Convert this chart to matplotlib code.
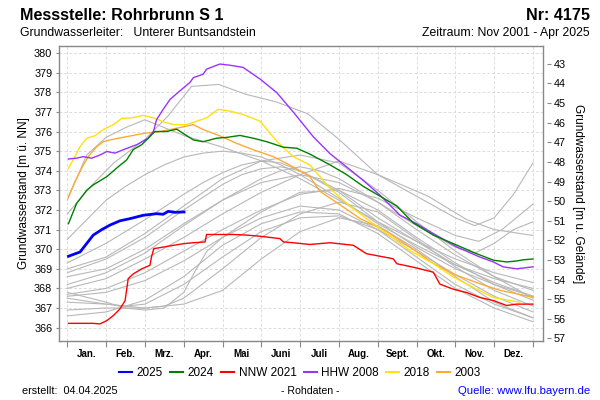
import matplotlib
matplotlib.use("Agg")
import matplotlib.pyplot as plt

plt.rcParams['font.family'] = ['Liberation Sans', 'DejaVu Sans']

# x values are in months from 1 Jan (0) to 31 Dec (12)
months = ["Jan.", "Feb.", "Mrz.", "Apr.", "Mai", "Juni", "Juli", "Aug.", "Sept.", "Okt.", "Nov.", "Dez."]
ground_level = 422.45

x_2025 = [0.03, 0.33, 0.67, 0.89, 1.10, 1.36, 1.62, 1.96, 2.30, 2.47, 2.60, 2.78, 3.01]
y_2025 = [369.64, 369.86, 370.72, 371.0, 371.23, 371.45, 371.56, 371.73, 371.81, 371.78, 371.93, 371.88, 371.9]

x_2024 = [0.03, 0.24, 0.5, 0.67, 1.02, 1.31, 1.53, 1.70, 1.92, 2.13, 2.26, 2.56, 2.82, 2.99, 3.25, 3.50,
          3.85, 4.11, 4.45, 4.79, 5.14, 5.57, 5.91, 6.25, 6.77, 7.2, 7.63, 8.06, 8.49, 8.91, 9.43, 9.95,
          10.55, 10.98, 11.32, 11.58, 11.75, 12.0]
y_2024 = [371.3, 372.33, 373.0, 373.28, 373.7, 374.2, 374.55, 375.08, 375.33, 375.75, 376.0, 376.0, 376.12,
          375.9, 375.57, 375.48, 375.66, 375.7, 375.8, 375.66, 375.48, 375.2, 375.15, 374.85, 374.3, 373.8,
          373.2, 372.7, 372.2, 371.35, 370.72, 370.28, 369.77, 369.44, 369.35, 369.4, 369.46, 369.5]

x_nnw = [0.03, 0.33, 0.67, 0.84, 1.02, 1.19, 1.36, 1.49, 1.57, 1.70, 1.92, 2.13, 2.17, 2.23, 2.39, 2.65,
         2.99, 3.25, 3.55, 3.59, 3.93, 4.28, 4.62, 4.97, 5.48, 5.57, 5.82, 6.25, 6.77, 7.37, 7.71, 8.06,
         8.40, 8.49, 8.92, 9.43, 9.60, 9.95, 10.29, 10.63, 10.98, 11.32, 11.58, 12.0]
y_nnw = [366.22, 366.22, 366.22, 366.19, 366.36, 366.62, 366.96, 367.38, 368.5, 368.74, 369.0, 369.18,
         369.6, 370.03, 370.08, 370.17, 370.28, 370.33, 370.37, 370.75, 370.75, 370.75, 370.72, 370.66,
         370.54, 370.37, 370.33, 370.24, 370.33, 370.2, 369.77, 369.64, 369.51, 369.26, 369.08, 368.83,
         368.22, 367.96, 367.79, 367.54, 367.38, 367.13, 367.2, 367.2]

x_hhw = [0.03, 0.24, 0.41, 0.63, 0.84, 1.02, 1.23, 1.44, 1.79, 2.09, 2.22, 2.30, 2.47, 2.65, 2.90, 3.16,
         3.25, 3.5, 3.59, 3.93, 4.19, 4.53, 4.97, 5.40, 5.82, 6.34, 6.77, 7.20, 7.63, 8.06, 8.57, 9.0,
         9.43, 10.03, 10.63, 10.98, 11.23, 11.58, 12.0]
y_hhw = [374.6, 374.64, 374.72, 374.64, 374.8, 374.98, 374.9, 375.07, 375.33, 375.66, 376.0, 376.6,
         377.13, 377.64, 378.07, 378.5, 378.75, 378.92, 379.18, 379.44, 379.38, 379.27, 378.67, 377.98,
         377.0, 375.73, 374.87, 374.19, 373.5, 372.75, 371.74, 371.3, 370.8, 370.12, 369.6, 369.35,
         369.1, 369.0, 369.1]

x_2018 = [0.03, 0.15, 0.33, 0.5, 0.71, 0.93, 1.19, 1.40, 1.66, 1.96, 2.22, 2.47, 2.73, 3.08, 3.33, 3.59,
          3.89, 4.19, 4.53, 4.97, 5.40, 5.82, 6.25, 6.77, 7.28, 7.71, 8.23, 8.83, 9.43, 9.95, 10.46,
          10.98, 11.41, 11.66]
y_2018 = [374.13, 374.55, 375.23, 375.66, 375.78, 376.1, 376.35, 376.67, 376.7, 376.82, 376.7, 376.5,
          376.35, 376.35, 376.52, 376.7, 377.13, 377.04, 376.87, 376.52, 375.5, 374.72, 374.3, 373.1,
          372.2, 371.56, 370.8, 369.93, 369.27, 368.58, 368.05, 367.54, 367.38, 367.3]

x_2003 = [0.03, 0.2, 0.37, 0.54, 0.76, 0.93, 1.10, 1.53, 1.96, 2.39, 2.82, 3.25, 3.50, 3.93, 4.36, 4.79,
          5.31, 5.82, 6.25, 6.51, 7.03, 7.54, 8.23, 8.83, 9.43, 10.03, 10.63, 11.15, 11.58, 12.0]
y_2003 = [372.68, 373.45, 374.13, 374.72, 375.23, 375.48, 375.57, 375.74, 375.9, 376.0, 376.17, 376.35,
          376.1, 375.78, 375.4, 375.07, 374.72, 374.2, 373.7, 372.95, 372.26, 371.57, 370.9, 370.12,
          369.27, 368.67, 368.24, 367.9, 367.73, 367.54]

# other years (grey)
grey_years = [
    ([0, 0.6, 1.2, 2, 2.6, 3.2, 3.9, 4.6, 5.4, 6.2, 7, 8, 9.3, 10.3, 11, 12],
     [371.8, 373.2, 374.4, 375.6, 376.8, 378.3, 378.4, 377.9, 377.5, 376.9, 375.6, 373.8, 372.7, 371.5, 371.0, 370.7]),
    ([0, 0.5, 1, 1.5, 2, 2.5, 3, 3.5, 4, 5, 6, 7, 8, 9, 10, 11, 12],
     [372.5, 374.8, 375.7, 376.2, 376.6, 376.2, 375.8, 375.5, 375.2, 374.5, 373.6, 372.5, 371.4, 370.4, 369.5, 368.8, 368.3]),
    ([0, 0.5, 1, 1.5, 2, 2.5, 3, 3.5, 4, 4.5, 5, 5.5, 6, 7, 8, 9, 10, 11, 12],
     [370.5, 371.5, 372.5, 373.2, 373.8, 374.3, 374.7, 374.9, 375.0, 374.9, 374.7, 374.3, 373.8, 372.6, 371.3, 370.2, 369.2, 368.5, 368.0]),
    ([0, 1, 2, 3, 3.5, 4, 4.5, 5, 5.5, 6, 7, 8, 9, 10, 11, 12],
     [369.3, 370.3, 371.5, 372.8, 373.4, 373.9, 374.3, 374.5, 374.4, 374.0, 372.9, 371.4, 370.1, 369.0, 368.2, 367.6]),
    ([0, 1, 2, 3, 4, 4.5, 5, 5.5, 6, 7, 8, 9, 10, 11, 12],
     [368.8, 369.5, 370.6, 372.0, 373.3, 373.8, 374.1, 374.2, 374.0, 373.0, 371.6, 370.4, 369.2, 368.3, 367.6]),
    ([0, 1, 2, 3, 4, 5, 5.5, 6, 6.5, 7, 8, 9, 10, 11, 12],
     [368.2, 368.8, 369.8, 371.2, 372.5, 373.6, 374.0, 374.2, 374.0, 373.6, 372.4, 371.0, 369.7, 368.6, 367.9]),
    ([0, 1, 2, 3, 4, 5, 6, 7, 8, 9, 10, 10.5, 11, 11.5, 12],
     [368.0, 368.5, 369.5, 370.6, 371.8, 372.9, 373.8, 374.5, 373.8, 372.7, 371.6, 371.2, 371.6, 372.8, 374.4]),
    ([0, 1, 2, 3, 4, 5, 6, 7, 8, 9, 10, 10.6, 11.2, 12],
     [367.7, 368.0, 368.8, 369.9, 371.0, 372.0, 372.8, 373.1, 372.6, 371.6, 370.7, 370.4, 371.0, 372.3]),
    ([0, 1, 2, 3, 4, 5, 6, 7, 8, 9, 10, 11, 12],
     [367.6, 367.8, 368.4, 369.4, 370.6, 371.9, 372.9, 373.0, 372.0, 370.6, 369.3, 368.2, 367.4]),
    ([0, 1, 1.5, 2, 3, 4, 5, 6, 7, 8, 9, 10, 11, 12],
     [367.3, 367.2, 367.1, 367.2, 368.2, 369.6, 370.9, 371.6, 371.7, 371.0, 369.9, 368.7, 367.6, 366.8]),
    ([0, 1, 2, 2.5, 3, 4, 5, 6, 7, 8, 9, 10, 11, 12],
     [366.9, 367.0, 367.0, 367.1, 367.5, 369.0, 370.6, 371.8, 372.4, 371.9, 370.5, 369.1, 367.9, 367.1]),
    ([0, 1, 2, 3, 4, 5, 6, 7, 8, 9, 10, 11, 12],
     [367.5, 367.2, 367.0, 367.2, 367.9, 369.5, 370.9, 371.6, 371.2, 370.0, 368.6, 367.3, 366.5]),
    ([0, 1, 2, 3, 4, 5, 6, 7, 8, 9, 10, 11, 12],
     [369.0, 369.6, 370.8, 372.2, 373.6, 374.5, 374.8, 374.4, 373.0, 371.4, 369.9, 368.6, 367.5]),
    ([0, 1, 2, 3, 4, 5, 6, 7, 8, 9, 10, 10.5, 11, 11.5, 12],
     [368.6, 369.0, 370.0, 371.3, 372.5, 373.4, 373.8, 373.4, 372.4, 371.2, 370.1, 369.8, 370.3, 371.0, 371.4]),
    ([0, 1, 2, 3, 4, 5, 6, 7, 8, 9, 10, 11, 12],
     [366.6, 366.8, 367.4, 368.6, 370.2, 371.3, 371.9, 371.8, 370.8, 369.4, 368.0, 367.0, 366.3]),
    ([0, 1, 1.5, 2, 2.5, 3, 3.3, 3.6, 4, 5, 6, 7, 8, 9, 10, 11, 12],
     [367.8, 367.3, 367.0, 366.9, 367.0, 367.8, 368.9, 369.9, 370.6, 371.6, 372.2, 372.0, 371.0, 369.6, 368.2, 367.2, 366.5]),
]

fig = plt.figure(figsize=(6, 4), dpi=100)
ax = fig.add_axes([0.0988, 0.148, 0.8057, 0.737])

for gx, gy in grey_years:
    ax.plot(gx, gy, color='#b8b8b8', linewidth=0.8, zorder=2)

ax.plot(x_2003, y_2003, color='#ffaa33', linewidth=1.0, zorder=3, label='2003')
ax.plot(x_2018, y_2018, color='#ffe010', linewidth=1.0, zorder=3, label='2018')
ax.plot(x_hhw, y_hhw, color='#9933ff', linewidth=1.0, zorder=4, label='HHW 2008')
ax.plot(x_nnw, y_nnw, color='#ff0000', linewidth=1.0, zorder=4, label='NNW 2021')
ax.plot(x_2024, y_2024, color='#008000', linewidth=1.0, zorder=5, label='2024')
ax.plot(x_2025, y_2025, color='#0000ff', linewidth=2.0, zorder=6, label='2025')

ax.set_xlim(-0.206, 12.25)
ax.set_ylim(365.33, 380.36)

ax.set_xticks(range(13))
ax.set_xticklabels([])
ax.set_xticks([i + 0.5 for i in range(12)], minor=True)
ax.set_xticklabels(months, minor=True, fontsize=7, fontweight='bold')
ax.tick_params(axis='x', which='major', direction='out', length=4, color='#888888')
ax.tick_params(axis='x', which='minor', length=0, pad=6)

ax.set_yticks(range(366, 381))
ax.tick_params(axis='y', direction='out', length=2, color='#888888', labelsize=7.8, pad=3)

ax.grid(True, which='major', color='#dddddd', linestyle='--', linewidth=0.7, dashes=(3, 2))
ax.set_axisbelow(True)
for s in ax.spines.values():
    s.set_color('#888888')
    s.set_linewidth(1.0)

ax.set_ylabel('Grundwasserstand [m ü. NN]', fontsize=8.5, labelpad=3)

sec = ax.secondary_yaxis(1.008, functions=(lambda v: ground_level - v, lambda v: ground_level - v))
sec.set_yticks(range(43, 58))
sec.tick_params(direction='out', length=3, color='#888888', labelsize=7.8, pad=2)
sec.spines['right'].set_visible(False)
sec.set_ylabel('Grundwasserstand [m u. Gelände]', fontsize=8.5, rotation=270, labelpad=13)

handles, labels = ax.get_legend_handles_labels()
order = ['2025', '2024', 'NNW 2021', 'HHW 2008', '2018', '2003']
hl = {l: h for h, l in zip(handles, labels)}
leg = fig.legend([hl[o] for o in order], order, loc='center', bbox_to_anchor=(0.5, 0.068),
                 ncol=6, frameon=False, fontsize=8.5, handlelength=1.1, handletextpad=0.4,
                 columnspacing=0.6, borderpad=0.2)
for line in leg.get_lines():
    line.set_linewidth(1.5)

fig.text(0.034, 0.9625, 'Messstelle: Rohrbrunn S 1', fontsize=11.6, fontweight='bold', va='center')
fig.text(0.983, 0.9625, 'Nr: 4175', fontsize=11.6, fontweight='bold', va='center', ha='right')
fig.text(0.034, 0.9175, 'Grundwasserleiter:   Unterer Buntsandstein', fontsize=8.8, va='center')
fig.text(0.983, 0.9175, 'Zeitraum: Nov 2001 - Apr 2025', fontsize=8.8, va='center', ha='right')

fig.text(0.037, 0.022, 'erstellt:  04.04.2025', fontsize=7.8, va='center')
fig.text(0.517, 0.022, '- Rohdaten -', fontsize=7.6, va='center', ha='center')
fig.text(0.983, 0.022, 'Quelle: www.lfu.bayern.de', fontsize=8.2, va='center', ha='right', color='#0000ff')

fig.savefig('out.png', dpi=100)
